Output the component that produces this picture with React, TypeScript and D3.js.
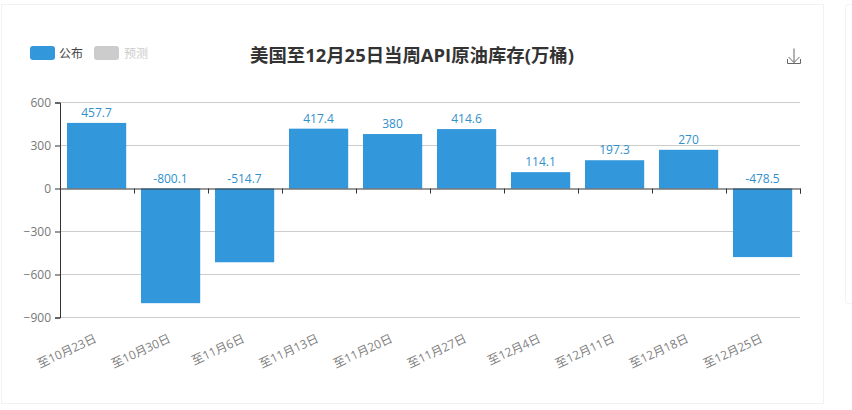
import { axisBottom, axisLeft, scaleBand, scaleLinear, select } from "d3";
import { useEffect, useRef } from "react";

const categories = [
  "至10月23日",
  "至10月30日",
  "至11月6日",
  "至11月13日",
  "至11月20日",
  "至11月27日",
  "至12月4日",
  "至12月11日",
  "至12月18日",
  "至12月25日",
];
const values = [457.7, -800.1, -514.7, 417.4, 380, 414.6, 114.1, 197.3, 270, -478.5];
const yTicks = [600, 300, 0, -300, -600, -900];

const fontFamily = '"Open Sans", "Noto Sans CJK SC", sans-serif';
const width = 852;
const height = 410;
const left = 60;
const right = 800;
const top = 102.5;
const bottom = 317.5;

const App = () => {
  const yAxisRef = useRef<SVGGElement>(null);
  const xAxisRef = useRef<SVGGElement>(null);

  const xScale = scaleBand().domain(categories).range([left, right]).paddingInner(0.2).paddingOuter(0.1);
  const tickScale = scaleLinear().domain([0, categories.length]).range([left, right]);
  const yScale = scaleLinear().domain([-900, 600]).range([bottom, top]);

  useEffect(() => {
    if (yAxisRef.current) {
      const g = select(yAxisRef.current);
      g.call(axisLeft(yScale).tickValues(yTicks).tickSize(5).tickPadding(4));
      g.selectAll("text").attr("fill", "#777").style("font-size", "12px").style("font-family", fontFamily);
      g.selectAll("line").attr("stroke", "#333");
      g.select(".domain").attr("stroke", "#333");
    }
    if (xAxisRef.current) {
      const g = select(xAxisRef.current);
      g.call(
        axisBottom(tickScale)
          .tickValues(categories.map((_, i) => i).concat(categories.length))
          .tickSize(5)
          .tickFormat(() => "")
      );
      g.selectAll("line").attr("stroke", "#333");
      g.select(".domain").attr("stroke", "#333");
    }
  }, []);

  return (
    <svg
      width={width}
      height={height}
      style={{ position: "absolute", left: 0, top: 0, background: "#fff", fontFamily }}
    >
      <rect x={1.5} y={4.5} width={822} height={399} fill="#fff" stroke="#f2f2f2" />
      <rect x={845.5} y={4.5} width={20} height={299} rx={3} fill="#fff" stroke="#f2f2f2" />

      {/* legend */}
      <rect x={30} y={46} width={25} height={14} rx={3} fill="#3398DB" />
      <text x={59} y={58} fontSize={12} fill="#444">公布</text>
      <rect x={94} y={46} width={25} height={14} rx={3} fill="#ccc" />
      <text x={124} y={58} fontSize={12} fill="#ccc">预测</text>

      <text x={412} y={62} fontSize={18.4} fontWeight="bold" fill="#333" textAnchor="middle">
        美国至12月25日当周API原油库存(万桶)
      </text>

      {/* download icon */}
      <g fill="none" stroke="#666" strokeWidth={1}>
        <path d="M794 48.5V62.5M788.5 57L794 62.5L799.5 57" />
        <path d="M787.5 59V63.5H800.5V59" />
      </g>

      {/* grid */}
      {yTicks.filter((t) => t !== 0).map((t) => (
        <line key={t} x1={left} x2={right} y1={yScale(t)} y2={yScale(t)} stroke="#ccc" />
      ))}

      {/* bars */}
      {values.map((v, i) => (
        <rect
          key={categories[i]}
          x={Number(xScale(categories[i])) - 0.4}
          y={yScale(Math.max(v, 0))}
          width={xScale.bandwidth()}
          height={Math.abs(yScale(v) - yScale(0))}
          fill="#3398DB"
        />
      ))}

      <g ref={yAxisRef} transform={`translate(${left},0)`} />
      <g ref={xAxisRef} transform={`translate(0,${yScale(0)})`} />

      {/* value labels sit above the bar, or above the zero line for negatives */}
      {values.map((v, i) => (
        <text
          key={categories[i]}
          x={Number(xScale(categories[i])) + xScale.bandwidth() / 2 - 0.5}
          y={yScale(Math.max(v, 0)) - 6}
          fontSize={12}
          fill="#3090cc"
          textAnchor="middle"
        >
          {v}
        </text>
      ))}

      {/* rotated category labels */}
      {categories.map((c) => {
        const x = Number(xScale(c)) + xScale.bandwidth() / 2 - 1;
        return (
          <text
            key={c}
            transform={`translate(${x},${bottom + 21}) rotate(-25)`}
            fontSize={12}
            fill="#808080"
            textAnchor="end"
            dominantBaseline="middle"
          >
            {c}
          </text>
        );
      })}
    </svg>
  );
};

export default App;
